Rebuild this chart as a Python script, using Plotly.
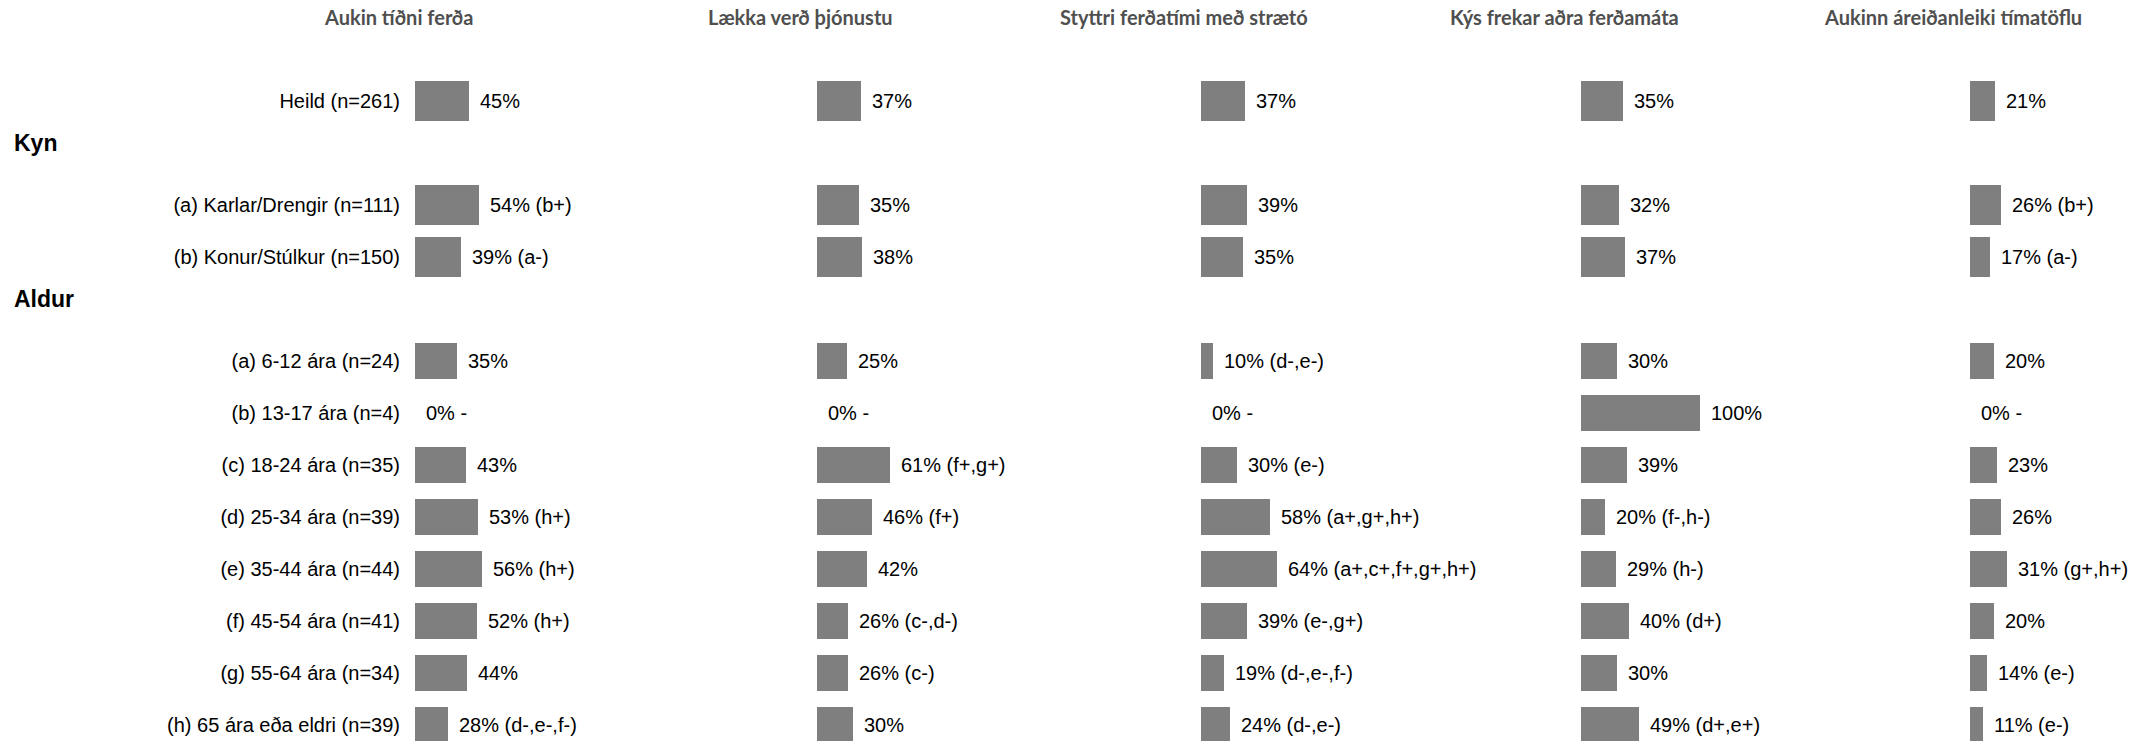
import plotly.graph_objects as go

# ---------------- data ----------------
group_headers = ["", "Kyn", "Aldur"]
group_rows = [
    ["Heild (n=261)"],
    ["(a) Karlar/Drengir (n=111)", "(b) Konur/Stúlkur (n=150)"],
    ["(a) 6-12 ára (n=24)", "(b) 13-17 ára (n=4)", "(c) 18-24 ára (n=35)",
     "(d) 25-34 ára (n=39)", "(e) 35-44 ára (n=44)", "(f) 45-54 ára (n=41)",
     "(g) 55-64 ára (n=34)", "(h) 65 ára eða eldri (n=39)"],
]

col_titles = ["Aukin tíðni ferða", "Lækka verð þjónustu", "Styttri ferðatími með strætó",
              "Kýs frekar aðra ferðamáta", "Aukinn áreiðanleiki tímatöflu"]

vals_tidni = [45, 54, 39, 35, 0, 43, 53, 56, 52, 44, 28]
sig_tidni = ["", "(b+)", "(a-)", "", "-", "", "(h+)", "(h+)", "(h+)", "", "(d-,e-,f-)"]

vals_verd = [37, 35, 38, 25, 0, 61, 46, 42, 26, 26, 30]
sig_verd = ["", "", "", "", "-", "(f+,g+)", "(f+)", "", "(c-,d-)", "(c-)", ""]

vals_ferdatimi = [37, 39, 35, 10, 0, 30, 58, 64, 39, 19, 24]
sig_ferdatimi = ["", "", "", "(d-,e-)", "-", "(e-)", "(a+,g+,h+)", "(a+,c+,f+,g+,h+)",
                 "(e-,g+)", "(d-,e-,f-)", "(d-,e-)"]

vals_annad = [35, 32, 37, 30, 100, 39, 20, 29, 40, 30, 49]
sig_annad = ["", "", "", "", "", "", "(f-,h-)", "(h-)", "(d+)", "", "(d+,e+)"]

vals_areidanleiki = [21, 26, 17, 20, 0, 23, 26, 31, 20, 14, 11]
sig_areidanleiki = ["", "(b+)", "(a-)", "", "-", "", "", "(g+,h+)", "", "(e-)", "(e-)"]

col_values = [vals_tidni, vals_verd, vals_ferdatimi, vals_annad, vals_areidanleiki]
col_sigs = [sig_tidni, sig_verd, sig_ferdatimi, sig_annad, sig_areidanleiki]

# ---------------- layout constants ----------------
W, H = 2136, 741
ROW_PX = 52.0          # vertical distance between row slots
FIRST_ROW_PX = 101.0   # centre of first row from top
PX_PER_PCT = 1.19      # horizontal bar scale
BAR_STARTS = [415, 817, 1201, 1581, 1970]
COL_SPAN = 340
TITLE_OFFSET = -17
BAR_WIDTH_TOP = 0.77
BAR_WIDTH_AGE = 0.69

LABEL_FONT = dict(family="Liberation Sans, Arial, sans-serif", size=20, color="#000000")
HEADER_FONT = dict(family="Liberation Sans, Arial, sans-serif", size=23, color="#000000")
TITLE_FONT = dict(family="Lato, sans-serif", size=20, color="#4f4f4f")
BAR_COLOR = "#7f7f7f"

# slot positions derived from the group structure
slots, labels, widths, header_slots = [], [], [], []
s = 0
for gi, (hdr, rows) in enumerate(zip(group_headers, group_rows)):
    if hdr:
        header_slots.append((hdr, s))
        s += 1
    for r in rows:
        slots.append(s)
        labels.append(r)
        widths.append(BAR_WIDTH_AGE if gi == 2 else BAR_WIDTH_TOP)
        s += 1

fig = go.Figure()
annotations = []
layout = {}

for k, (title, vals, sigs) in enumerate(zip(col_titles, col_values, col_sigs)):
    xname = "x" if k == 0 else f"x{k + 1}"
    axkey = "xaxis" if k == 0 else f"xaxis{k + 1}"
    start = BAR_STARTS[k]
    span = min(COL_SPAN, W - start)
    layout[axkey] = dict(domain=[start / W, (start + span) / W], range=[0, span / PX_PER_PCT],
                         visible=False, anchor="y", fixedrange=True)
    fig.add_trace(go.Bar(x=vals, y=slots, orientation="h", xaxis=xname, yaxis="y",
                         width=widths, marker=dict(color=BAR_COLOR, line=dict(width=0)),
                         hoverinfo="skip", showlegend=False))
    for v, sg, yv in zip(vals, sigs, slots):
        annotations.append(dict(x=v, y=yv, xref=xname, yref="y", text=f"{v}% {sg}".strip(),
                                xanchor="left", yanchor="middle", xshift=9, showarrow=False,
                                font=LABEL_FONT))
    annotations.append(dict(x=(start + TITLE_OFFSET) / W, y=1 - 17 / H, xref="paper", yref="paper",
                            text=f"<b>{title}</b>", xanchor="center", yanchor="middle",
                            showarrow=False, font=TITLE_FONT))

for hdr, hs in header_slots:
    annotations.append(dict(x=12 / W, y=hs, xref="paper", yref="y", text=f"<b>{hdr}</b>",
                            xanchor="left", yanchor="middle", yshift=10, showarrow=False,
                            font=HEADER_FONT))

y_top = -FIRST_ROW_PX / ROW_PX
y_bottom = (H - FIRST_ROW_PX) / ROW_PX

fig.update_layout(
    width=W, height=H,
    margin=dict(l=0, r=0, t=0, b=0),
    paper_bgcolor="white", plot_bgcolor="white",
    yaxis=dict(domain=[0, 1], range=[y_bottom, y_top], anchor="x",
               tickvals=slots, ticktext=labels, ticks="", showgrid=False,
               zeroline=False, showline=False, ticklabelstandoff=14,
               tickfont=LABEL_FONT, fixedrange=True),
    annotations=annotations,
    bargap=0,
    **layout,
)

fig.write_html("out.html", config={"displayModeBar": False},
               post_script="document.body.style.margin='0px';document.body.style.overflow='hidden';")
